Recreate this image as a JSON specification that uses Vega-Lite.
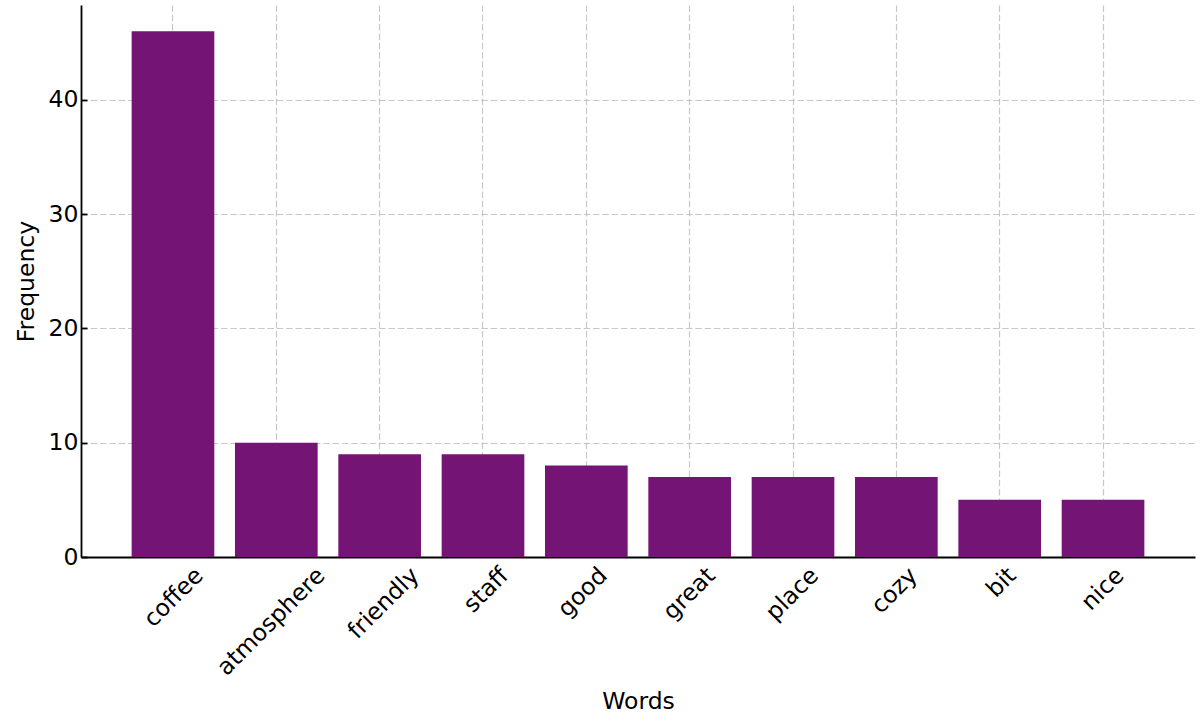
{
  "$schema": "https://vega.github.io/schema/vega-lite/v6.json",
  "width": 1114,
  "height": 552,
  "autosize": {"type": "none"},
  "padding": {"left": 81, "top": 5, "right": 5, "bottom": 165},
  "background": "white",
  "config": {
    "view": {"stroke": null},
    "font": "DejaVu Sans",
    "axis": {
      "labelFont": "DejaVu Sans",
      "titleFont": "DejaVu Sans",
      "labelFontSize": 23.5,
      "titleFontSize": 23.5,
      "titleFontWeight": "normal",
      "labelColor": "#000000",
      "titleColor": "#000000",
      "domainColor": "#000000",
      "domainWidth": 1.8,
      "tickColor": "#000000",
      "tickWidth": 1.8,
      "tickSize": -6,
      "grid": true,
      "gridColor": "#b0b0b0",
      "gridOpacity": 0.7,
      "gridDash": [6.5, 2.8],
      "gridWidth": 1.2,
      "zindex": 1
    }
  },
  "data": {
    "values": [
      {"word": "coffee", "count": 46},
      {"word": "atmosphere", "count": 10},
      {"word": "friendly", "count": 9},
      {"word": "staff", "count": 9},
      {"word": "good", "count": 8},
      {"word": "great", "count": 7},
      {"word": "place", "count": 7},
      {"word": "cozy", "count": 7},
      {"word": "bit", "count": 5},
      {"word": "nice", "count": 5}
    ]
  },
  "mark": {"type": "bar", "color": "#741474"},
  "encoding": {
    "x": {
      "field": "word",
      "type": "nominal",
      "sort": null,
      "scale": {"paddingInner": 0.2, "paddingOuter": 0.49},
      "axis": {
        "title": "Words",
        "bandPosition": 0.5,
        "labelAngle": -45,
        "labelAlign": "right",
        "labelBaseline": "top",
        "labelPadding": 12,
        "labelOffset": {"expr": "length(datum.label) * 4.6 - 9.6"},
        "titlePadding": 10
      }
    },
    "y": {
      "field": "count",
      "type": "quantitative",
      "scale": {"domain": [0, 48.3], "nice": false, "zero": true},
      "axis": {
        "title": "Frequency",
        "values": [0, 10, 20, 30, 40],
        "labelPadding": 9,
        "titlePadding": 10
      }
    }
  }
}
